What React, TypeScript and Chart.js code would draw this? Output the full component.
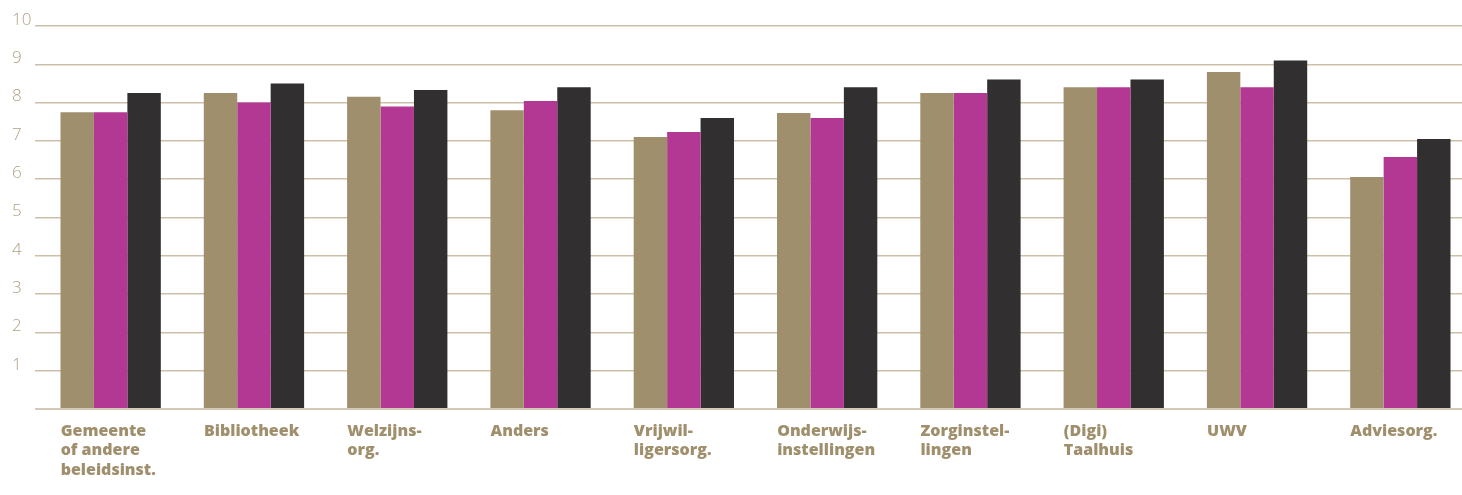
import React, { useEffect, useRef } from "react";
import { Chart, registerables } from "chart.js";

Chart.register(...registerables);

const categories: string[][] = [
  ["Gemeente", "of andere", "beleidsinst."],
  ["Bibliotheek"],
  ["Welzijns-", "org."],
  ["Anders"],
  ["Vrijwil-", "ligersorg."],
  ["Onderwijs-", "instellingen"],
  ["Zorginstel-", "lingen"],
  ["(Digi)", "Taalhuis"],
  ["UWV"],
  ["Adviesorg."],
];

const seriesTan = [7.75, 8.25, 8.15, 7.8, 7.1, 7.73, 8.25, 8.4, 8.8, 6.06];
const seriesMagenta = [7.75, 8.0, 7.9, 8.04, 7.23, 7.6, 8.25, 8.4, 8.4, 6.58];
const seriesDark = [8.25, 8.5, 8.33, 8.4, 7.6, 8.4, 8.6, 8.6, 9.1, 7.05];

const yTicks = [0, 1, 2, 3, 4, 5, 6, 7, 8, 9, 10];

export default function App() {
  const ref = useRef<HTMLCanvasElement | null>(null);

  useEffect(() => {
    document.body.style.margin = "0";
    const canvas = ref.current;
    if (!canvas) return;
    const chart = new Chart(canvas, {
      type: "bar",
      data: {
        labels: categories,
        datasets: [
          { label: "A", data: seriesTan, backgroundColor: "#a08f6c" },
          { label: "B", data: seriesMagenta, backgroundColor: "#b33893" },
          { label: "C", data: seriesDark, backgroundColor: "#312f30" },
        ],
      },
      options: {
        animation: false,
        responsive: false,
        maintainAspectRatio: false,
        layout: { padding: { left: 12, top: 26, right: 0, bottom: 0 } },
        datasets: {
          bar: { barPercentage: 1.0, categoryPercentage: 0.7 },
        },
        plugins: {
          legend: { display: false },
          tooltip: { enabled: false },
        },
        scales: {
          x: {
            grid: { display: false },
            border: { display: false },
            ticks: {
              align: "start",
              labelOffset: -50,
              padding: 5,
              color: "#a08f6c",
              font: { family: "Open Sans", size: 16, weight: "800", lineHeight: 1.2 },
              maxRotation: 0,
              autoSkip: false,
            },
            afterFit: (scale: any) => {
              scale.height = 86;
              scale.paddingLeft = 0;
              scale.paddingRight = 0;
            },
          },
          y: {
            min: 0,
            max: 10,
            afterBuildTicks: (scale: any) => {
              scale.ticks = yTicks.map((v) => ({ value: v }));
            },
            border: { display: false },
            grid: {
              color: (ctx: any) => (ctx.tick && ctx.tick.value === 0 ? "#d3c9b9" : "#cbbfa9"),
              lineWidth: (ctx: any) => (ctx.tick && ctx.tick.value === 0 ? 2 : 1.5),
              tickLength: 4,
              drawTicks: true,
            },
            ticks: {
              crossAlign: "far",
              labelOffset: -6,
              color: "#b0a283",
              font: { family: "Open Sans", size: 17, weight: "300" },
              callback: (v: any) => (v === 0 ? "" : String(v)),
            },
            afterFit: (scale: any) => {
              scale.width = 27;
              scale.paddingTop = 0;
              scale.paddingBottom = 0;
            },
          },
        },
      },
    });
    return () => chart.destroy();
  }, []);

  return (
    <div style={{ width: 1462, height: 495, overflow: "hidden", background: "#ffffff" }}>
      <canvas ref={ref} width={1472} height={495} style={{ display: "block" }} />
    </div>
  );
}
